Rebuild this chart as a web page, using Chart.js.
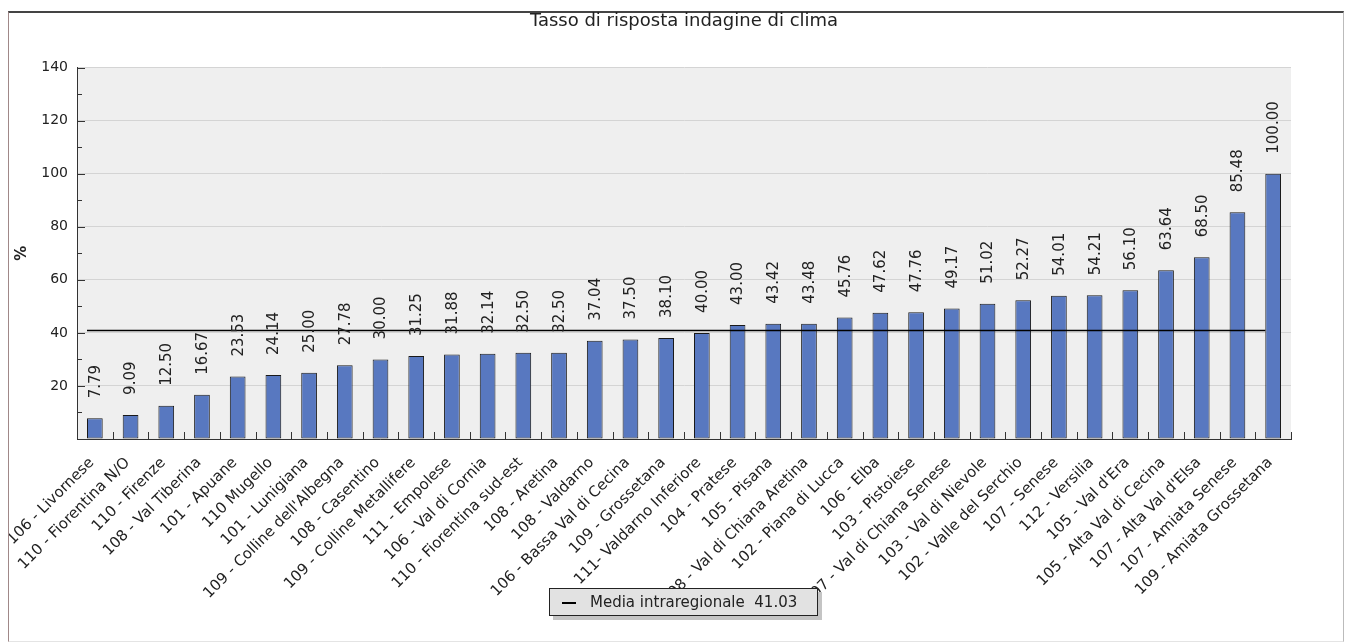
<!DOCTYPE html>
<html>
<head>
<meta charset="utf-8">
<script src="https://cdn.jsdelivr.net/npm/chart.js@4/dist/chart.umd.min.js"></script>
<style>
  body { margin: 0; background: #fff; font-family: "DejaVu Sans", sans-serif; overflow: hidden; }
  #frame {
    position: absolute; left: 8px; top: 11px; width: 1334px; height: 628px;
    border-top: 2px solid #444; border-left: 1px solid #a08888;
    border-right: 1px solid #bbb; border-bottom: 1px solid #e4e4e4;
  }
  #chart { position: absolute; left: 9px; top: 0; }
  #legend {
    position: absolute; left: 549px; top: 588px; width: 267px; height: 26px;
    background: #e2e2e2; border: 1px solid #222; box-shadow: 4px 4px 0 #c4c4c4;
    font-size: 15px; color: #222; line-height: 26px; white-space: pre;
  }
  #legend .mark {
    display: inline-block; width: 14px; height: 2px; background: #000;
    vertical-align: middle; margin: 0 14px 0 12px;
  }
</style>
</head>
<body>
<div id="frame"></div>
<canvas id="chart" width="1334" height="643"></canvas>
<div id="legend"><span class="mark"></span><span id="legendText"></span></div>

<script>
// data
const regions = [
  "106 - Livornese", "110 - Fiorentina N/O", "110 - Firenze", "108 - Val Tiberina",
  "101 - Apuane", "110 Mugello", "101 - Lunigiana", "109 - Colline dell'Albegna",
  "108 - Casentino", "109 - Colline Metallifere", "111 - Empolese", "106 - Val di Cornia",
  "110 - Fiorentina sud-est", "108 - Aretina", "108 - Valdarno", "106 - Bassa Val di Cecina",
  "109 - Grossetana", "111- Valdarno Inferiore", "104 - Pratese", "105 - Pisana",
  "108 - Val di Chiana Aretina", "102 - Piana di Lucca", "106 - Elba", "103 - Pistoiese",
  "107 - Val di Chiana Senese", "103 - Val di Nievole", "102 - Valle del Serchio", "107 - Senese",
  "112 - Versilia", "105 - Val d'Era", "105 - Alta Val di Cecina", "107 - Alta Val d'Elsa",
  "107 - Amiata Senese", "109 - Amiata Grossetana"
];
const rates = [
  7.79, 9.09, 12.50, 16.67, 23.53, 24.14, 25.00, 27.78, 30.00, 31.25, 31.88, 32.14,
  32.50, 32.50, 37.04, 37.50, 38.10, 40.00, 43.00, 43.42, 43.48, 45.76, 47.62, 47.76,
  49.17, 51.02, 52.27, 54.01, 54.21, 56.10, 63.64, 68.50, 85.48, 100.00
];
const mediaLabel = "Media intraregionale";
const mediaValue = 41.03;
const yMax = 140;
const yStep = 20;

document.getElementById('legendText').textContent = mediaLabel + "  " + mediaValue.toFixed(2);

Chart.defaults.font.family = '"DejaVu Sans", sans-serif';
Chart.defaults.color = '#222';

const extras = {
  id: 'extras',
  beforeDraw(chart) {
    const { ctx, chartArea: a } = chart;
    ctx.save();
    ctx.fillStyle = '#efefef';
    ctx.fillRect(a.left, a.top, a.right - a.left, a.bottom - a.top);
    ctx.restore();
  },
  afterDatasetsDraw(chart) {
    const { ctx, chartArea: a, scales: { y } } = chart;
    const bars = chart.getDatasetMeta(0).data;
    const last = bars[bars.length - 1];

    // mean line
    const my = Math.round(y.getPixelForValue(mediaValue)) + 0.5;
    ctx.save();
    ctx.strokeStyle = '#000';
    ctx.lineWidth = 1.5;
    ctx.beginPath();
    ctx.moveTo(bars[0].x - bars[0].width / 2, my);
    ctx.lineTo(last.x - last.width / 2, my);
    ctx.stroke();

    // value labels
    ctx.fillStyle = '#222';
    ctx.font = '15px "DejaVu Sans"';
    ctx.textAlign = 'left';
    ctx.textBaseline = 'middle';
    bars.forEach((b, i) => {
      ctx.save();
      ctx.translate(b.x + 1, b.y - 20);
      ctx.rotate(-Math.PI / 2);
      ctx.fillText(rates[i].toFixed(2), 0, 0);
      ctx.restore();
    });

    // inner tick marks
    ctx.strokeStyle = '#333';
    ctx.lineWidth = 1;
    ctx.beginPath();
    const pitch = bars[1].x - bars[0].x;
    bars.forEach(b => {
      const x = Math.round(b.x + pitch / 2) + 0.5;
      ctx.moveTo(x, a.bottom);
      ctx.lineTo(x, a.bottom - 7);
    });
    for (let v = yStep / 2; v <= yMax; v += yStep / 2) {
      const py = Math.round(y.getPixelForValue(v)) + 0.5;
      const len = v % yStep === 0 ? 8 : 5;
      ctx.moveTo(a.left, py);
      ctx.lineTo(a.left + len, py);
    }
    ctx.stroke();
    ctx.restore();
  }
};

new Chart(document.getElementById('chart'), {
  type: 'bar',
  data: {
    labels: regions,
    datasets: [{
      label: "Tasso di risposta",
      data: rates,
      backgroundColor: '#5878c0',
      borderColor: '#1a1a1a',
      borderWidth: 1,
      borderSkipped: false,
      barPercentage: 0.44,
      categoryPercentage: 1
    }]
  },
  options: {
    responsive: false,
    animation: false,
    layout: { padding: { left: 0, right: 52, top: 0, bottom: 0 } },
    plugins: {
      legend: { display: false },
      tooltip: { enabled: false },
      title: {
        display: true,
        fullSize: false,
        text: "Tasso di risposta indagine di clima",
        font: { size: 18, weight: 'normal' },
        color: '#222',
        padding: { top: 11, bottom: 35 }
      }
    },
    scales: {
      x: {
        offset: true,
        grid: { display: false, drawTicks: false },
        border: { display: true, color: '#333', width: 1 },
        ticks: {
          autoSkip: false,
          minRotation: 45,
          maxRotation: 45,
          padding: 15,
          labelOffset: -3,
          font: { size: 15 },
          color: '#222'
        },
        afterFit(scale) {
          scale.height = 204;
          scale.paddingLeft = 0;
          scale.paddingRight = 0;
        }
      },
      y: {
        min: 0,
        max: yMax,
        ticks: {
          stepSize: yStep,
          padding: 9,
          font: { size: 14 },
          color: '#222',
          callback: v => v === 0 ? '' : v
        },
        grid: { color: '#d4d4d4', drawTicks: false },
        border: { color: '#333', width: 1 },
        title: {
          display: true,
          text: '%',
          font: { size: 15, weight: 'bold' },
          color: '#222',
          padding: { top: 4, bottom: 0 }
        },
        afterFit(scale) { scale.width = 68; }
      }
    }
  },
  plugins: [extras]
});
</script>
</body>
</html>
